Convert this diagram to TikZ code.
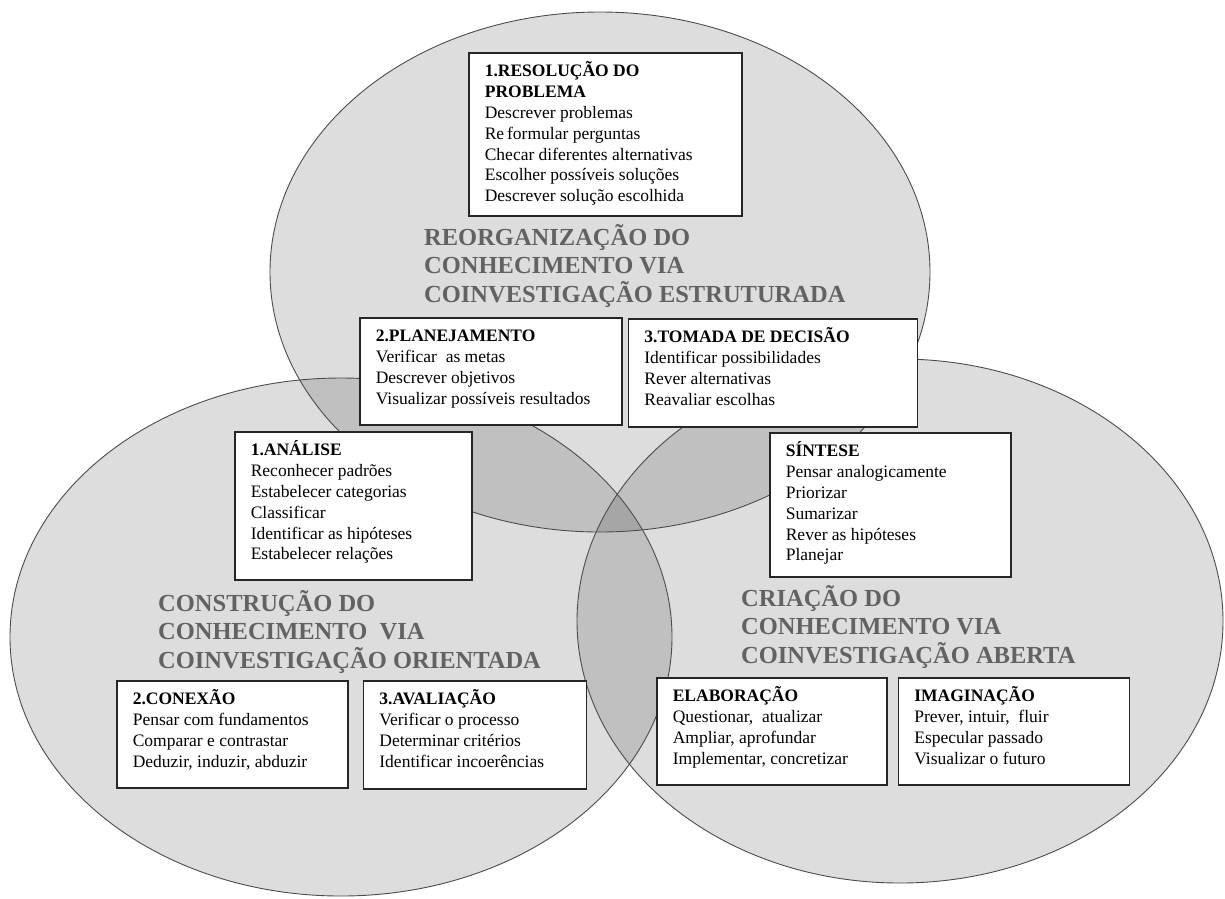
\documentclass[tikz,border=0pt]{standalone}
\usepackage{fontspec}
\setmainfont{Liberation Serif}
\definecolor{areagray}{RGB}{98,98,98}
\newcommand{\boxfont}{\fontsize{17.5}{20.8}\selectfont}
\newcommand{\areafont}{\fontsize{24.5}{28.5}\selectfont\bfseries}
% fixed-height box text, first baseline 24pt below the frame
\newcommand{\boxtext}[3]{\parbox[t][#1][t]{#2}{\raggedright\rule{0pt}{24pt}#3}}
\tikzset{
  region/.style={fill=black, fill opacity=0.135},
  rim/.style={draw=black!70, line width=0.9pt},
  infobox/.style={draw=black!85, line width=1.6pt, fill=white, anchor=north west,
    inner xsep=16pt, inner ysep=0pt, font=\boxfont},
  areatitle/.style={anchor=north west, inner sep=0pt, align=left, font=\areafont,
    text=areagray},
}

\begin{document}
\begin{tikzpicture}[x=1pt, y=-1pt]
    \useasboundingbox (0,0) rectangle (1225,898);
    % Centres of the three regions
    \coordinate (ctop) at (600,272);
    \coordinate (cleft) at (341,637);
    \coordinate (cright) at (900,621);
    % Regions
    \fill[region] (ctop) ellipse [x radius=330pt, y radius=260pt];
    \fill[region] (cleft) ellipse [x radius=331pt, y radius=259pt];
    \fill[region] (cright) ellipse [x radius=323pt, y radius=262pt];
    \draw[rim] (ctop) ellipse [x radius=330pt, y radius=260pt];
    \draw[rim] (cleft) ellipse [x radius=331pt, y radius=259pt];
    \draw[rim] (cright) ellipse [x radius=323pt, y radius=262pt];
    % Region titles
    \node[areatitle] (reorg) at (424,221)
      {\rule{0pt}{24pt}REORGANIZAÇÃO DO\\CONHECIMENTO VIA\\COINVESTIGAÇÃO ESTRUTURADA};
    \node[areatitle] (constr) at (158,587)
      {\rule{0pt}{24pt}CONSTRUÇÃO DO\\CONHECIMENTO \ VIA\\COINVESTIGAÇÃO ORIENTADA};
    \node[areatitle] (criacao) at (741,582)
      {\rule{0pt}{24pt}CRIAÇÃO DO\\CONHECIMENTO VIA\\COINVESTIGAÇÃO ABERTA};
    % Top region
    \node[infobox] (resol) at (468,52) {\boxtext{163pt}{241pt}{%
      \textbf{1.RESOLUÇÃO DO}\\\textbf{PROBLEMA}\\Descrever problemas\\
      Re\,formular perguntas\\Checar diferentes alternativas\\
      Escolher possíveis soluções\\Descrever solução escolhida}};
    \node[infobox] (planej) at (359,317) {\boxtext{107pt}{230pt}{%
      \textbf{2.PLANEJAMENTO}\\Verificar \ as metas\\Descrever objetivos\\
      Visualizar possíveis resultados}};
    \node[infobox] (tomada) at ([xshift=5pt,yshift=-1pt]planej.north east)
      {\boxtext{108pt}{257pt}{%
      \textbf{3.TOMADA DE DECISÃO}\\Identificar possibilidades\\
      Rever alternativas\\Reavaliar escolhas}};
    % Left region
    \node[infobox] (analise) at (234,431) {\boxtext{148pt}{205pt}{%
      \textbf{1.ANÁLISE}\\Reconhecer padrões\\Estabelecer categorias\\
      Classificar\\Identificar as hipóteses\\Estabelecer relações}};
    \node[infobox] (conexao) at (116,680) {\boxtext{107pt}{199pt}{%
      \textbf{2.CONEXÃO}\\Pensar com fundamentos\\Comparar e contrastar\\
      Deduzir, induzir, abduzir}};
    \node[infobox] (avalia) at ([xshift=14pt]conexao.north east)
      {\boxtext{108pt}{191pt}{%
      \textbf{3.AVALIAÇÃO}\\Verificar o processo\\Determinar critérios\\
      Identificar incoerências}};
    % Right region
    \node[infobox] (sintese) at (769,432) {\boxtext{144pt}{209pt}{%
      \textbf{SÍNTESE}\\Pensar analogicamente\\Priorizar\\Sumarizar\\
      Rever as hipóteses\\Planejar}};
    \node[infobox] (elabor) at (656,677) {\boxtext{107pt}{198pt}{%
      \textbf{ELABORAÇÃO}\\Questionar, \ atualizar\\Ampliar, aprofundar\\
      Implementar, concretizar}};
    \node[infobox] (imagin) at ([xshift=10pt]elabor.north east)
      {\boxtext{107pt}{199pt}{%
      \textbf{IMAGINAÇÃO}\\Prever, intuir, \ fluir\\Especular passado\\
      Visualizar o futuro}};
\end{tikzpicture}
\end{document}
